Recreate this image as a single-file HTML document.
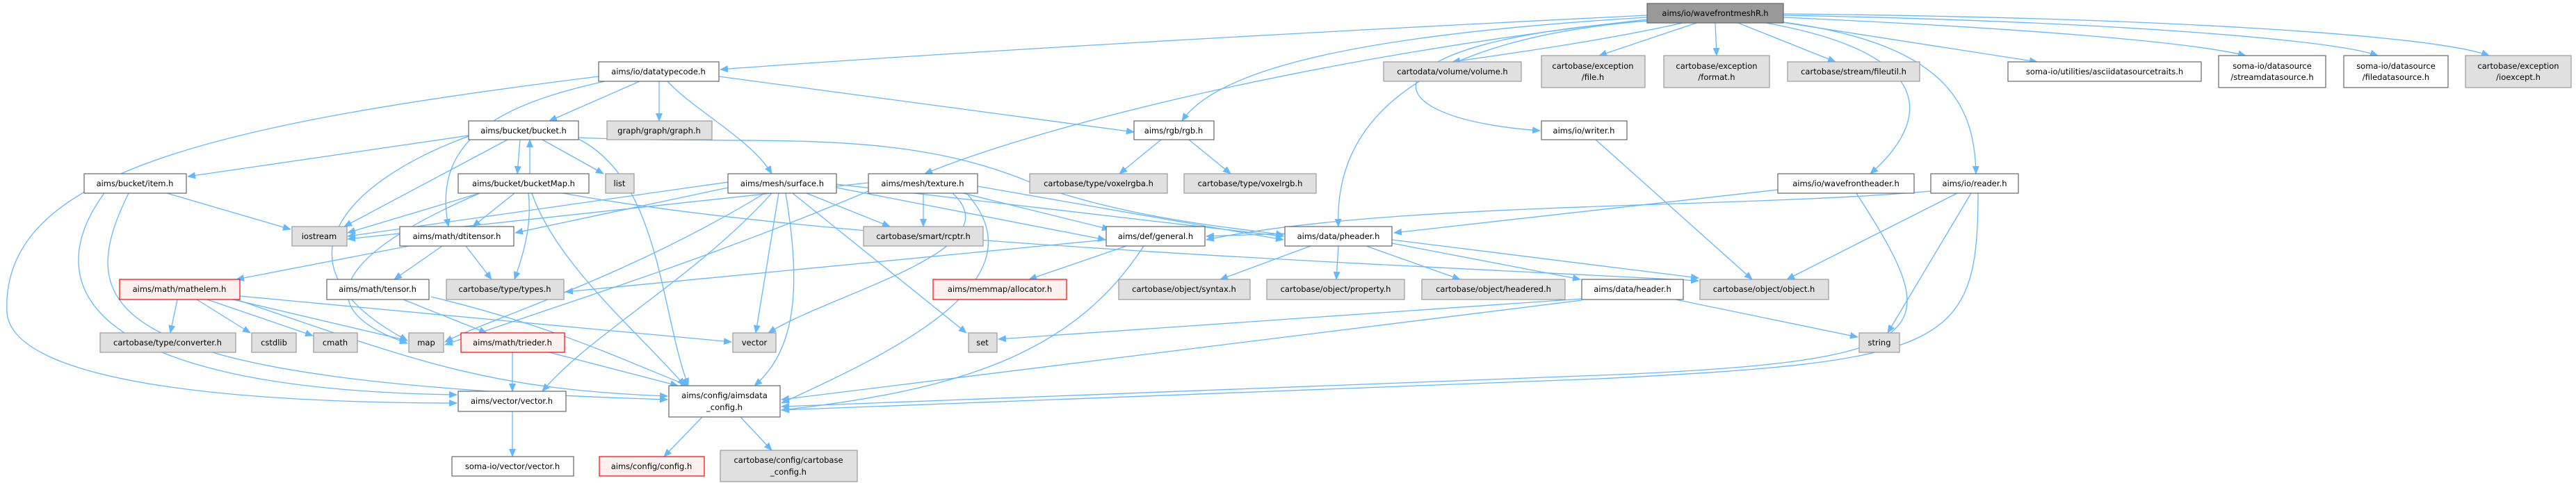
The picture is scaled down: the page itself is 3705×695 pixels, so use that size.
<!DOCTYPE html>
<html><head><meta charset="utf-8"><style>
html,body{margin:0;padding:0;background:#fff;}
svg{display:block;}
text{font-family:"DejaVu Sans","Liberation Sans",sans-serif;font-size:11.5px;fill:#000;text-anchor:middle;}
.w{fill:#fff;stroke:#666;stroke-width:1.2;}
.g{fill:#e0e0e0;stroke:#999;stroke-width:1.2;}
.r{fill:#fff0f0;stroke:#f00;stroke-width:1.2;}
.d{fill:#999;stroke:#666;stroke-width:1.2;}
path{fill:none;stroke:#63b8ff;stroke-width:1.3;}
</style></head><body>
<svg width="3705" height="695" viewBox="0 0 3705 695" xmlns="http://www.w3.org/2000/svg">
<defs><marker id="a" markerWidth="12" markerHeight="10" refX="11" refY="5" orient="auto" markerUnits="userSpaceOnUse"><polygon points="0,0 12,5 0,10" fill="#63b8ff"/></marker></defs>
<g marker-end="url(#a)">
<path d="M2369,22 C1800,50 1300,80 1036,100"/>
<path d="M2420,33 C2300,60 2150,80 2089,89"/>
<path d="M2440,33 L2300,80"/>
<path d="M2467,33 L2469,80"/>
<path d="M2500,33 L2640,89"/>
<path d="M2550,30 L2930,89"/>
<path d="M2565,25 C2900,40 3150,60 3230,80"/>
<path d="M2565,22 C3000,30 3350,55 3420,80"/>
<path d="M2565,20 C3100,25 3500,50 3580,80"/>
<path d="M2369,30 C1950,60 1960,170 2215,188"/>
<path d="M2369,25 C1950,50 1750,100 1700,174"/>
<path d="M2369,28 C1900,80 1500,180 1330,250"/>
<path d="M2369,30 C2000,60 1920,200 1925,326"/>
<path d="M2540,33 C2800,80 2770,180 2690,250"/>
<path d="M2550,30 C2800,60 2840,150 2842,250"/>
<path d="M920,117 L790,174"/>
<path d="M948,117 L948,174"/>
<path d="M960,117 C1000,160 1080,200 1110,250"/>
<path d="M1034,110 L1631,190"/>
<path d="M861,110 C300,180 0,250 10,450 C20,560 400,580 657,580"/>
<path d="M870,117 C720,150 620,200 645,326"/>
<path d="M674,195 L270,254"/>
<path d="M748,201 L744,250"/>
<path d="M762,250 L762,201"/>
<path d="M780,201 L868,250"/>
<path d="M730,201 L495,326"/>
<path d="M674,196 C500,260 380,380 586,490"/>
<path d="M832,200 C950,260 950,450 990,555"/>
<path d="M832,198 C1100,210 1300,180 1500,270 C1650,320 1800,330 1846,338"/>
<path d="M690,278 L500,335"/>
<path d="M740,278 L680,326"/>
<path d="M760,278 C765,320 755,360 740,402"/>
<path d="M690,278 C500,360 430,440 586,494"/>
<path d="M765,278 C800,380 920,480 985,555"/>
<path d="M810,278 C1200,350 2000,380 2443,404"/>
<path d="M240,278 L418,330"/>
<path d="M150,278 C60,400 100,560 657,568"/>
<path d="M185,278 C100,450 150,550 960,575"/>
<path d="M588,354 L340,402"/>
<path d="M636,354 L567,402"/>
<path d="M670,354 L707,402"/>
<path d="M255,431 L245,479"/>
<path d="M283,431 L360,479"/>
<path d="M298,431 L450,483"/>
<path d="M335,431 L586,490"/>
<path d="M345,426 C700,460 900,480 1052,492"/>
<path d="M340,431 C600,520 700,560 960,570"/>
<path d="M580,431 L700,479"/>
<path d="M620,427 C800,470 900,520 990,555"/>
<path d="M737,507 L737,563"/>
<path d="M790,507 L975,555"/>
<path d="M737,592 L737,657"/>
<path d="M1010,600 L955,657"/>
<path d="M1065,600 L1110,648"/>
<path d="M1047,262 L500,340"/>
<path d="M1047,270 L741,335"/>
<path d="M1160,278 L1280,326"/>
<path d="M1203,270 L1590,345"/>
<path d="M1203,265 L1846,340"/>
<path d="M1120,278 L1087,479"/>
<path d="M1140,278 L1390,479"/>
<path d="M1130,278 C1150,400 1150,500 1085,555"/>
<path d="M1110,278 C1000,400 850,480 780,563"/>
<path d="M1100,278 C900,400 700,460 640,492"/>
<path d="M1249,263 L500,344"/>
<path d="M1328,278 L1328,326"/>
<path d="M1385,278 L1596,330"/>
<path d="M1406,268 L1846,345"/>
<path d="M1370,278 C1460,360 1200,420 1105,479"/>
<path d="M1390,278 C1500,400 1300,500 1124,580"/>
<path d="M1249,275 C1000,380 800,440 640,496"/>
<path d="M1670,201 L1610,250"/>
<path d="M1710,201 L1770,250"/>
<path d="M1620,354 L1480,402"/>
<path d="M1645,354 C1550,500 1400,560 1124,590"/>
<path d="M1591,345 L813,420"/>
<path d="M1848,336 L1735,340"/>
<path d="M1885,354 L1755,402"/>
<path d="M1925,354 L1922,402"/>
<path d="M1965,354 L2100,402"/>
<path d="M2002,350 L2273,402"/>
<path d="M2002,345 L2443,400"/>
<path d="M2410,431 L2672,485"/>
<path d="M2275,430 L1436,488"/>
<path d="M2275,432 L1124,575"/>
<path d="M2295,201 L2520,402"/>
<path d="M2557,273 L2005,335"/>
<path d="M2670,278 C2800,480 2800,520 2300,540 L1124,585"/>
<path d="M2777,275 C2500,300 2000,290 1735,345"/>
<path d="M2815,278 L2570,402"/>
<path d="M2835,278 L2715,479"/>
<path d="M2845,278 C2845,500 2800,520 2300,545 L1124,590"/>
</g>
<rect class="d" x="2369" y="5" width="196" height="28"/><text x="2467" y="23">aims/io/wavefrontmeshR.h</text>
<rect class="w" x="861" y="89" width="173" height="28"/><text x="947" y="107">aims/io/datatypecode.h</text>
<rect class="g" x="1990" y="89" width="198" height="28"/><text x="2089" y="107">cartodata/volume/volume.h</text>
<rect class="g" x="2217" y="80" width="149" height="46"/><text x="2291" y="99">cartobase/exception</text><text x="2291" y="115">/file.h</text>
<rect class="g" x="2393" y="80" width="152" height="46"/><text x="2469" y="99">cartobase/exception</text><text x="2469" y="115">/format.h</text>
<rect class="g" x="2571" y="89" width="190" height="28"/><text x="2666" y="107">cartobase/stream/fileutil.h</text>
<rect class="w" x="2888" y="89" width="278" height="28"/><text x="3027" y="107">soma-io/utilities/asciidatasourcetraits.h</text>
<rect class="w" x="3191" y="80" width="154" height="46"/><text x="3268" y="99">soma-io/datasource</text><text x="3268" y="115">/streamdatasource.h</text>
<rect class="w" x="3371" y="80" width="150" height="46"/><text x="3446" y="99">soma-io/datasource</text><text x="3446" y="115">/filedatasource.h</text>
<rect class="g" x="3546" y="80" width="152" height="46"/><text x="3622" y="99">cartobase/exception</text><text x="3622" y="115">/ioexcept.h</text>
<rect class="w" x="674" y="174" width="158" height="27"/><text x="753" y="192">aims/bucket/bucket.h</text>
<rect class="g" x="873" y="174" width="151" height="27"/><text x="948" y="192">graph/graph/graph.h</text>
<rect class="w" x="1631" y="174" width="115" height="27"/><text x="1688" y="192">aims/rgb/rgb.h</text>
<rect class="w" x="2217" y="174" width="123" height="27"/><text x="2278" y="192">aims/io/writer.h</text>
<rect class="w" x="121" y="250" width="147" height="28"/><text x="194" y="268">aims/bucket/item.h</text>
<rect class="w" x="659" y="250" width="188" height="28"/><text x="753" y="268">aims/bucket/bucketMap.h</text>
<rect class="g" x="871" y="250" width="41" height="28"/><text x="891" y="268">list</text>
<rect class="w" x="1047" y="250" width="156" height="28"/><text x="1125" y="268">aims/mesh/surface.h</text>
<rect class="w" x="1249" y="250" width="157" height="28"/><text x="1327" y="268">aims/mesh/texture.h</text>
<rect class="g" x="1481" y="250" width="198" height="28"/><text x="1580" y="268">cartobase/type/voxelrgba.h</text>
<rect class="g" x="1703" y="250" width="190" height="28"/><text x="1798" y="268">cartobase/type/voxelrgb.h</text>
<rect class="w" x="2557" y="250" width="196" height="28"/><text x="2655" y="268">aims/io/wavefrontheader.h</text>
<rect class="w" x="2777" y="250" width="126" height="28"/><text x="2840" y="268">aims/io/reader.h</text>
<rect class="g" x="420" y="326" width="79" height="28"/><text x="459" y="344">iostream</text>
<rect class="w" x="575" y="326" width="164" height="28"/><text x="657" y="344">aims/math/dtitensor.h</text>
<rect class="g" x="1242" y="326" width="172" height="28"/><text x="1328" y="344">cartobase/smart/rcptr.h</text>
<rect class="w" x="1591" y="326" width="142" height="28"/><text x="1662" y="344">aims/def/general.h</text>
<rect class="w" x="1848" y="326" width="154" height="28"/><text x="1925" y="344">aims/data/pheader.h</text>
<rect class="r" x="172" y="402" width="173" height="29"/><text x="258" y="420">aims/math/mathelem.h</text>
<rect class="w" x="470" y="402" width="147" height="29"/><text x="543" y="420">aims/math/tensor.h</text>
<rect class="g" x="642" y="402" width="169" height="29"/><text x="726" y="420">cartobase/type/types.h</text>
<rect class="r" x="1342" y="402" width="192" height="29"/><text x="1438" y="420">aims/memmap/allocator.h</text>
<rect class="g" x="1609" y="402" width="189" height="29"/><text x="1703" y="420">cartobase/object/syntax.h</text>
<rect class="g" x="1822" y="402" width="198" height="29"/><text x="1921" y="420">cartobase/object/property.h</text>
<rect class="g" x="2045" y="402" width="206" height="29"/><text x="2148" y="420">cartobase/object/headered.h</text>
<rect class="w" x="2275" y="402" width="146" height="29"/><text x="2348" y="420">aims/data/header.h</text>
<rect class="g" x="2445" y="402" width="185" height="29"/><text x="2537" y="420">cartobase/object/object.h</text>
<rect class="g" x="144" y="479" width="195" height="28"/><text x="241" y="497">cartobase/type/converter.h</text>
<rect class="g" x="362" y="479" width="64" height="28"/><text x="394" y="497">cstdlib</text>
<rect class="g" x="451" y="479" width="63" height="28"/><text x="482" y="497">cmath</text>
<rect class="g" x="588" y="479" width="50" height="28"/><text x="613" y="497">map</text>
<rect class="r" x="663" y="479" width="149" height="28"/><text x="737" y="497">aims/math/trieder.h</text>
<rect class="g" x="1054" y="479" width="62" height="28"/><text x="1085" y="497">vector</text>
<rect class="g" x="1393" y="479" width="41" height="28"/><text x="1413" y="497">set</text>
<rect class="g" x="2674" y="479" width="58" height="28"/><text x="2703" y="497">string</text>
<rect class="w" x="659" y="563" width="155" height="29"/><text x="736" y="581">aims/vector/vector.h</text>
<rect class="w" x="962" y="555" width="160" height="45"/><text x="1042" y="573">aims/config/aimsdata</text><text x="1042" y="590">_config.h</text>
<rect class="w" x="650" y="657" width="175" height="28"/><text x="737" y="675">soma-io/vector/vector.h</text>
<rect class="r" x="862" y="657" width="151" height="28"/><text x="937" y="675">aims/config/config.h</text>
<rect class="g" x="1036" y="648" width="197" height="45"/><text x="1134" y="666">cartobase/config/cartobase</text><text x="1134" y="683">_config.h</text>
</svg>
</body></html>
